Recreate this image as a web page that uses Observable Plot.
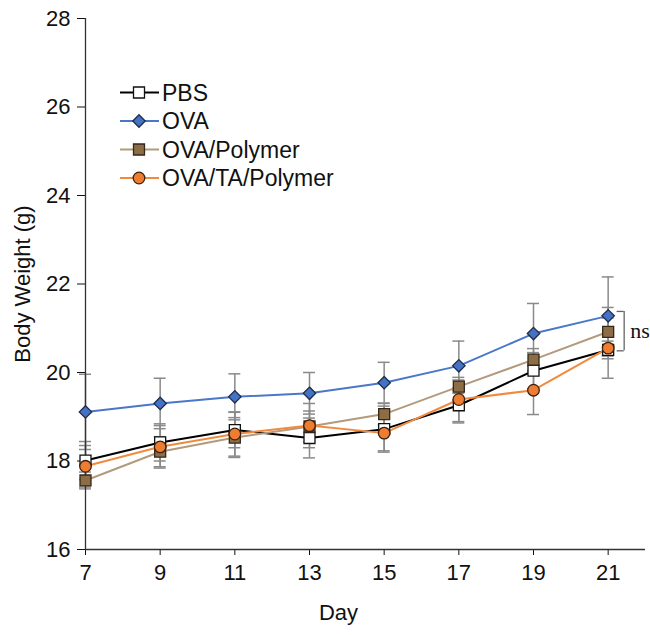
<!DOCTYPE html>
<html><head><meta charset="utf-8">
<script src="https://cdn.jsdelivr.net/npm/d3@7"></script>
<script src="https://cdn.jsdelivr.net/npm/@observablehq/plot@0.6"></script>
<style>
body{margin:0;background:#fff;font-family:"Liberation Sans",Arial,sans-serif}
#wrap{position:relative;width:650px;height:635px}
#legend{position:absolute;left:0;top:0}
</style>
</head><body><div id="wrap"></div>
<script>
// ---- data ----
const days = [7, 9, 11, 13, 15, 17, 19, 21];
const yTicks = [16, 18, 20, 22, 24, 26, 28];
const seriesNames = ["PBS", "OVA", "OVA/Polymer", "OVA/TA/Polymer"];
const pbsMean  = [18.01, 18.42, 18.70, 18.52, 18.72, 19.26, 20.04, 20.51];
const pbsSD    = [0.43, 0.42, 0.40, 0.45, 0.52, 0.40, 0.41, 0.20];
const ovaMean  = [19.11, 19.30, 19.45, 19.53, 19.77, 20.15, 20.88, 21.28];
const ovaSD    = [0.85, 0.57, 0.52, 0.47, 0.46, 0.56, 0.68, 0.88];
const polyMean = [17.56, 18.21, 18.53, 18.78, 19.06, 19.68, 20.29, 20.92];
const polySD   = [0.19, 0.34, 0.45, 0.35, 0.24, 0.15, 0.25, 0.55];
const taMean   = [17.88, 18.32, 18.61, 18.80, 18.63, 19.39, 19.60, 20.55];
const taSD     = [0.47, 0.48, 0.50, 0.50, 0.40, 0.50, 0.55, 0.68];
const bracketTop = 21.38, bracketBottom = 20.49, bracketDay = 21;
const sigLabel = "ns";

// ---- styles ----
const styles = {
  "PBS":            {line: "#000000", fill: "#ffffff", stroke: "#111111", symbol: "square",   r: 6.2},
  "OVA":            {line: "#4a78c8", fill: "#4472c4", stroke: "#1d2c4a", symbol: "diamond2", r: 5.6},
  "OVA/Polymer":    {line: "#b29b7c", fill: "#8c6d46", stroke: "#33281a", symbol: "square",   r: 6.2},
  "OVA/TA/Polymer": {line: "#f28a3e", fill: "#ee7d31", stroke: "#3a2210", symbol: "circle",   r: 5.8}
};
const means = [pbsMean, ovaMean, polyMean, taMean];
const sds = [pbsSD, ovaSD, polySD, taSD];
const rows = seriesNames.flatMap((s, k) => days.map((d, i) => ({
  series: s, day: d, mean: means[k][i], lo: means[k][i] - sds[k][i], hi: means[k][i] + sds[k][i]
})));
const capHalf = 0.16;
const FS = 22;

const marks = [
  // error bars
  Plot.ruleX(rows, {x: "day", y1: "lo", y2: "hi", stroke: "#8a8a8a", strokeWidth: 1.5}),
  Plot.ruleY(rows, {y: "hi", x1: d => d.day - capHalf, x2: d => d.day + capHalf, stroke: "#8a8a8a", strokeWidth: 1.5}),
  Plot.ruleY(rows, {y: "lo", x1: d => d.day - capHalf, x2: d => d.day + capHalf, stroke: "#8a8a8a", strokeWidth: 1.5}),
  // axes lines
  Plot.ruleX([days[0]], {y1: yTicks[0], y2: yTicks[yTicks.length - 1], stroke: "#333", strokeWidth: 1.3}),
  Plot.ruleY([yTicks[0]], {x1: days[0], x2: 22, stroke: "#333", strokeWidth: 1.3})
];
for (const s of seriesNames) {
  const st = styles[s];
  const data = rows.filter(r => r.series === s);
  marks.push(Plot.line(data, {x: "day", y: "mean", stroke: st.line, strokeWidth: 2}));
}
for (const s of seriesNames) {
  const st = styles[s];
  const data = rows.filter(r => r.series === s);
  marks.push(Plot.dot(data, {x: "day", y: "mean", symbol: () => st.symbol, r: st.r, fill: st.fill, stroke: st.stroke, strokeWidth: 1.3}));
}
// significance bracket
marks.push(
  Plot.ruleX([bracketDay], {y1: bracketTop, y2: bracketBottom, dx: 16, stroke: "#666", strokeWidth: 1.3}),
  Plot.ruleY([bracketTop, bracketBottom], {x1: bracketDay + 0.24, x2: bracketDay + 0.43, stroke: "#666", strokeWidth: 1.3}),
  Plot.text([sigLabel], {x: bracketDay, y: (bracketTop + bracketBottom) / 2, dx: 22, textAnchor: "start",
    fontFamily: "Liberation Serif, Times New Roman, serif", fontSize: 22, fill: "#111"}),
  // axis titles
  Plot.text(["Body Weight (g)"], {frameAnchor: "left", textAnchor: "middle", rotate: -90, dx: -63, fontSize: FS, fill: "#111"}),
  Plot.text(["Day"], {frameAnchor: "bottom", textAnchor: "middle", dx: -27, dy: 70, fontSize: FS, fill: "#111"})
);

const chart = Plot.plot({
  width: 650, height: 635,
  marginLeft: 85, marginRight: 5, marginTop: 18, marginBottom: 86,
  style: {fontFamily: "Liberation Sans, Arial, sans-serif", fontSize: FS + "px", color: "#111", background: "#fff"},
  x: {domain: [7, 22], ticks: days, tickSize: 6, tickPadding: 9, label: null, tickFormat: d => String(d)},
  y: {domain: [16, 28], ticks: yTicks, tickSize: 8, tickPadding: 7, label: null, tickFormat: d => String(d)},
  symbol: {type: "identity"},
  marks
});
const wrap = document.getElementById("wrap");
wrap.appendChild(chart);

// ---- legend (overlay) ----
const leg = d3.select(wrap).append("svg").attr("id", "legend").attr("width", 650).attr("height", 635);
const symMap = {square: d3.symbolSquare, diamond2: d3.symbolDiamond2, circle: d3.symbolCircle};
seriesNames.forEach((s, i) => {
  const st = styles[s];
  const y = 92.5 + i * 28.5;
  const g = leg.append("g");
  g.append("line").attr("x1", 120).attr("x2", 159).attr("y1", y).attr("y2", y).attr("stroke", st.line).attr("stroke-width", 2);
  g.append("path").attr("d", d3.symbol(symMap[st.symbol], Math.PI * st.r * st.r)())
    .attr("transform", `translate(139,${y})`).attr("fill", st.fill).attr("stroke", st.stroke).attr("stroke-width", 1.3);
  g.append("text").attr("x", 162).attr("y", y).attr("dy", "0.36em").attr("font-size", 23)
    .attr("font-family", "Liberation Sans, Arial, sans-serif").attr("fill", "#111").text(s);
});
</script>
</body></html>
